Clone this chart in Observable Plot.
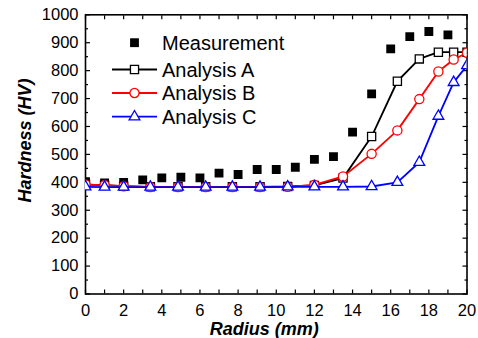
<!DOCTYPE html>
<html><head><meta charset="utf-8">
<script src="https://cdn.jsdelivr.net/npm/d3@7"></script>
<script src="https://cdn.jsdelivr.net/npm/@observablehq/plot@0.6"></script>
<style>
html,body{margin:0;padding:0;background:#fff;}
#chart{position:relative;width:478px;height:338px;}
</style></head><body><div id="chart"></div>
<script>
// Measurement data
const radiusMeas = [0,1,2,3,4,5,6,7,8,9,10,11,12,13,14,15,16,17,18,19];
const hardnessMeas = [402,398,400,409,416,418,416,433,428,446,446,454,482,492,580,717,878,922,940,928];
// Analysis data
const radiusAnalysis = [0,1,2,3.4,4.85,6.3,7.7,9.15,10.6,12,13.5,15,16.35,17.5,18.5,19.3,20];
const analysisA = [392,390,386,384,384,384,384,384,385,389,415,564,762,842,866,866,866];
const analysisB = [392,390,386,383,383,383,383,383,384,391,421,502,586,698,797,840,864];
const analysisC = [384,383,383,383,383,383,383,383,384,384,384,385,400,472,637,758,818];
// Ticks and labels
const xTickLabels = [0,2,4,6,8,10,12,14,16,18,20];
const xMinorTicks = [0,1,2,3,4,5,6,7,8,9,10,11,12,13,14,15,16,17,18,19,20];
const yTickLabels = [0,100,200,300,400,500,600,700,800,900,1000];
const yMinorTicks = [50,150,250,350,450,550,650,750,850,950];
const xTitle = ["Radius (mm)"];
const yTitle = ["Hardness (HV)"];
const seriesNames = ["Measurement","Analysis A","Analysis B","Analysis C"];

const meas = radiusMeas.map((x,i)=>({x, y: hardnessMeas[i]}));
const dA = radiusAnalysis.map((x,i)=>({x, y: analysisA[i]}));
const dB = radiusAnalysis.map((x,i)=>({x, y: analysisB[i]}));
const dC = radiusAnalysis.map((x,i)=>({x, y: analysisC[i]}));

const empty = () => "";
const chart = Plot.plot({
  width: 478, height: 338,
  marginLeft: 85, marginRight: 11.5, marginTop: 14.3, marginBottom: 44.5,
  x: {domain: [0,20]},
  y: {domain: [0,1000]},
  style: {fontFamily: "'Liberation Sans', Arial, sans-serif", fontSize: "16.5px", color: "#000", background: "#fff"},
  marks: [
    Plot.axisX({ticks: xTickLabels, anchor: "bottom", tickSize: 0, tickPadding: 10, tickFormat: "d", label: null, fontSize: 16.5}),
    Plot.axisX({ticks: xMinorTicks, anchor: "bottom", tickSize: -4, tickFormat: empty, label: null, strokeWidth: 1.2}),
    Plot.axisX({ticks: xMinorTicks, anchor: "top", tickSize: -4, tickFormat: empty, label: null, strokeWidth: 1.2}),
    Plot.axisY({ticks: yTickLabels, anchor: "left", tickSize: 0, tickPadding: 7, tickFormat: "d", label: null, fontSize: 16.5}),
    Plot.axisY({ticks: yTickLabels, anchor: "left", tickSize: -5, tickFormat: empty, label: null, strokeWidth: 1.2}),
    Plot.axisY({ticks: yMinorTicks, anchor: "left", tickSize: -3, tickFormat: empty, label: null, strokeWidth: 1.2}),
    Plot.axisY({ticks: yTickLabels, anchor: "right", tickSize: -5, tickFormat: empty, label: null, strokeWidth: 1.2}),
    Plot.axisY({ticks: yMinorTicks, anchor: "right", tickSize: -3, tickFormat: empty, label: null, strokeWidth: 1.2}),
    Plot.frame({stroke: "black", strokeWidth: 1.6}),
    Plot.text(xTitle, {frameAnchor: "bottom", text: d => d, textAnchor: "middle", lineAnchor: "middle", dx: -12, dy: 35, fontSize: 18, fontWeight: "bold", fontStyle: "italic"}),
    Plot.text(yTitle, {frameAnchor: "left", text: d => d, textAnchor: "middle", lineAnchor: "middle", rotate: -90, dx: -60, dy: -14, fontSize: 18, fontWeight: "bold", fontStyle: "italic"}),
    Plot.dot(meas, {x: "x", y: "y", symbol: "square", r: 5, fill: "black", stroke: "none", clip: true}),
    Plot.line(dA, {x: "x", y: "y", stroke: "black", strokeWidth: 1.8, clip: true}),
    Plot.dot(dA, {x: "x", y: "y", symbol: "square", r: 4.6, fill: "white", stroke: "black", strokeWidth: 1.3, clip: true}),
    Plot.line(dB, {x: "x", y: "y", stroke: "#ff0000", strokeWidth: 1.8, clip: true}),
    Plot.dot(dB, {x: "x", y: "y", symbol: "circle", r: 4.6, fill: "white", stroke: "#ff0000", strokeWidth: 1.3, clip: true}),
    Plot.line(dC, {x: "x", y: "y", stroke: "#0000ff", strokeWidth: 1.8, clip: true}),
    Plot.dot(dC, {x: "x", y: "y", symbol: "triangle", r: 4, fill: "white", stroke: "#0000ff", strokeWidth: 1.3, clip: true})
  ]
});
document.getElementById("chart").appendChild(chart);

// Legend (layout inside the plot area, top-left)
const legendStyles = [
  {line: null, symbol: d3.symbolSquare, size: 78, fill: "black", stroke: "none"},
  {line: "black", symbol: d3.symbolSquare, size: 66, fill: "white", stroke: "black"},
  {line: "#ff0000", symbol: d3.symbolCircle, size: 66, fill: "white", stroke: "#ff0000"},
  {line: "#0000ff", symbol: d3.symbolTriangle, size: 50, fill: "white", stroke: "#0000ff"}
];
const rowY = [42.7, 69.5, 93, 116.7];
const svg = d3.select(chart);
const lg = svg.append("g").attr("font-family", "'Liberation Sans', Arial, sans-serif").attr("font-size", 20).attr("text-anchor", "start");
seriesNames.forEach((name, i) => {
  const s = legendStyles[i];
  const g = lg.append("g").attr("transform", `translate(0,${rowY[i]})`);
  if (s.line) g.append("line").attr("x1", 112).attr("x2", 157).attr("y1", 0).attr("y2", 0).attr("stroke", s.line).attr("stroke-width", 1.8);
  g.append("path").attr("d", d3.symbol(s.symbol, s.size)()).attr("transform", "translate(134.5,0)")
    .attr("fill", s.fill).attr("stroke", s.stroke).attr("stroke-width", 1.3);
  g.append("text").attr("x", 162).attr("y", 7).attr("fill", "black").attr("text-anchor", "start").text(name);
});
</script>
</body></html>
